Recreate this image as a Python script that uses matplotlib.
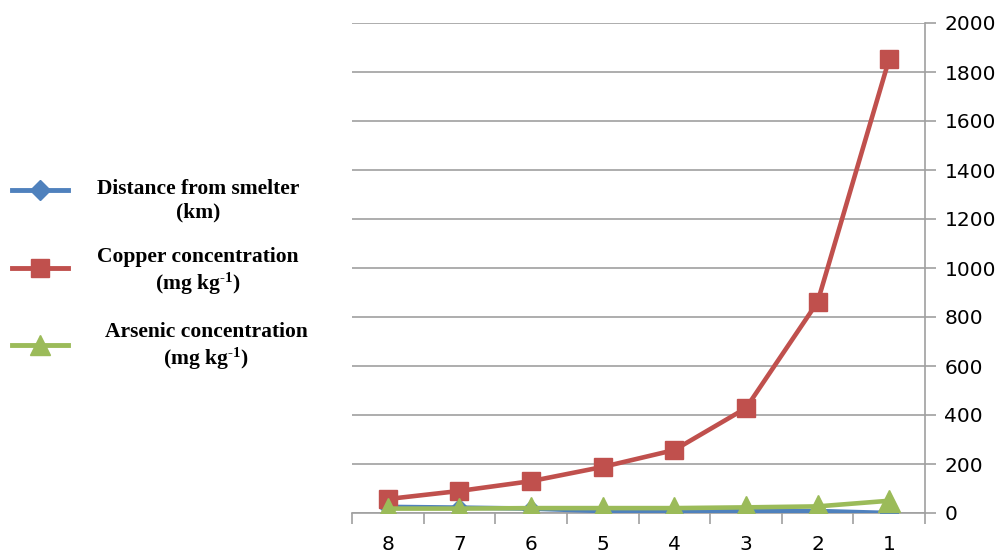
import matplotlib
matplotlib.use("Agg")
import matplotlib.pyplot as plt
from matplotlib.lines import Line2D
from matplotlib.ticker import FixedLocator, NullFormatter

plt.rcParams["mathtext.fontset"] = "custom"
plt.rcParams["mathtext.rm"] = "Liberation Serif:bold"
plt.rcParams["mathtext.bf"] = "Liberation Serif:bold"
plt.rcParams["mathtext.it"] = "Liberation Serif:bold"

categories = ["8", "7", "6", "5", "4", "3", "2", "1"]
distance = [25, 22, 18, 8, 6, 8, 8, 0]
copper = [57, 90, 130, 188, 257, 428, 861, 1853]
arsenic = [18, 18, 20, 20, 20, 23, 27, 50]
yticks = [0, 200, 400, 600, 800, 1000, 1200, 1400, 1600, 1800, 2000]

labels = ["Distance from smelter\n(km)",
          "Copper concentration\n(mg kg$^{\\text{-1}}$)",
          "Arsenic concentration\n(mg kg$^{\\text{-1}}$)"]

BLUE = "#4F81BD"
RED = "#C0504D"
GREEN = "#9BBB59"
GRID = "#A0A0A0"

W, H = 1005, 556
fig = plt.figure(figsize=(W / 100, H / 100), dpi=100)
ax = fig.add_axes([352 / W, (H - 513) / H, 573 / W, 490 / H])

x = list(range(len(categories)))
ax.plot(x, distance, color=BLUE, lw=3.3, marker="D", ms=9, zorder=3)
ax.plot(x, copper, color=RED, lw=3.3, marker="s", ms=13, zorder=4)
ax.plot(x, arsenic, color=GREEN, lw=3.3, marker="^", ms=16, zorder=5)

ax.set_xlim(-0.5, len(categories) - 0.5)
ax.set_ylim(0, 2000)
ax.set_xticks(x)
ax.set_xticklabels(categories, fontsize=14.5, family="DejaVu Sans")
ax.tick_params(axis="x", which="major", length=0, pad=16)
ax.xaxis.set_minor_locator(FixedLocator([i - 0.5 for i in range(len(categories) + 1)]))
ax.xaxis.set_minor_formatter(NullFormatter())
ax.tick_params(axis="x", which="minor", length=8, width=1.2, color=GRID, direction="out")

ax.yaxis.tick_right()
ax.set_yticks(yticks)
ax.set_yticklabels([str(v) for v in yticks], fontsize=14.5, family="DejaVu Sans")
ax.tick_params(axis="y", length=8, width=1.2, color=GRID, pad=6, direction="out")
ax.grid(axis="y", color=GRID, lw=1.2)
ax.set_axisbelow(True)
for s in ["left", "top"]:
    ax.spines[s].set_visible(False)
for s in ["right", "bottom"]:
    ax.spines[s].set_color(GRID)
    ax.spines[s].set_linewidth(1.2)

# legend
leg_colors = [BLUE, RED, GREEN]
leg_markers = ["D", "s", "^"]
leg_ms = [10, 13, 14]
line_y = [190, 268, 345]
text_y = [201, 272, 347]
text_x = [198, 198, 206]
for c, m, ms, ly, tx, ty, lab in zip(leg_colors, leg_markers, leg_ms, line_y, text_x, text_y, labels):
    fig.add_artist(Line2D([12 / W, 68 / W], [1 - ly / H, 1 - ly / H], color=c, lw=3.5,
                          transform=fig.transFigure))
    fig.add_artist(Line2D([40 / W], [1 - ly / H], color=c, marker=m, ms=ms,
                          transform=fig.transFigure))
    fig.text(tx / W, 1 - ty / H, lab, ha="center", va="center", multialignment="center",
             family="Liberation Serif", fontweight="bold", fontsize=15.5, linespacing=1.2)

fig.savefig("out.png", dpi=100)
